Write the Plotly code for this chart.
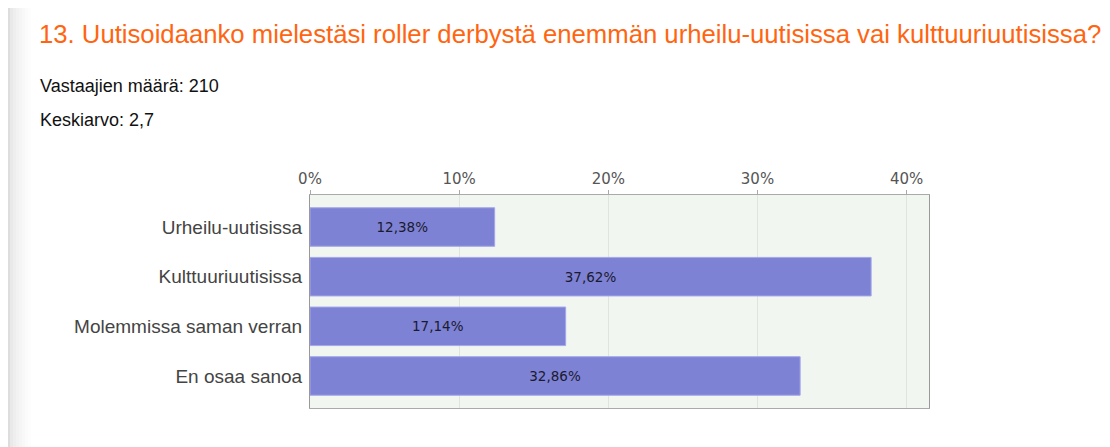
import plotly.graph_objects as go

categories = ["Urheilu-uutisissa", "Kulttuuriuutisissa", "Molemmissa saman verran", "En osaa sanoa"]
values = [12.38, 37.62, 17.14, 32.86]
tick_vals = [0, 10, 20, 30, 40]
tick_text = ["0%", "10%", "20%", "30%", "40%"]
title_text = "13. Uutisoidaanko mielestäsi roller derbystä enemmän urheilu-uutisissa vai kulttuuriuutisissa?"
info_lines = ["Vastaajien määrä: 210", "Keskiarvo: 2,7"]

OFF = 8  # page body margin
W, H = 1110 - OFF, 447 - OFF
L, R, T, B = 310 - OFF, 929 - OFF, 195 - OFF, 408 - OFF

def px(x):
    return (x - OFF - L) / (R - L)

def py(y):
    return (B - (y - OFF)) / (B - T)

labels = [f"{v:.2f}".replace(".", ",") + "%" for v in values]

fig = go.Figure()
fig.add_trace(go.Bar(
    x=values, y=categories, orientation="h",
    marker=dict(color="#7e82d4", line=dict(color="#a3a6ea", width=1)),
    width=0.776,
    text=labels, textposition="inside", insidetextanchor="middle",
    textfont=dict(family="DejaVu Sans", size=13.5, color="#1a1a30"),
    hoverinfo="skip",
))

shapes = []
shapes.append(dict(type="rect", xref="paper", yref="paper", x0=px(8), x1=px(10),
                   y0=py(H + 20), y1=py(-20), fillcolor="#dddddd", line=dict(width=0), layer="below"))
grad = ["#e9e9e9", "#eeeeee", "#f2f2f2", "#f5f5f5", "#f8f8f8", "#fbfbfb", "#fdfdfd"]
for i, c in enumerate(grad):
    shapes.append(dict(type="rect", xref="paper", yref="paper", x0=px(10 + i * 3), x1=px(13 + i * 3),
                       y0=py(H + 20), y1=py(-20), fillcolor=c, line=dict(width=0), layer="below"))

annotations = [
    dict(text=title_text, xref="paper", yref="paper", x=px(37), y=py(34), xanchor="left", yanchor="middle",
         showarrow=False, font=dict(family="Liberation Sans, Arial", size=25.7, color="#ff6510")),
    dict(text=info_lines[0], xref="paper", yref="paper", x=px(38), y=py(86), xanchor="left", yanchor="middle",
         showarrow=False, font=dict(family="Liberation Sans, Arial", size=18, color="#111")),
    dict(text=info_lines[1], xref="paper", yref="paper", x=px(38), y=py(120), xanchor="left", yanchor="middle",
         showarrow=False, font=dict(family="Liberation Sans, Arial", size=18, color="#111")),
]

fig.update_layout(
    width=W, height=H,
    margin=dict(l=L, r=W - R, t=T, b=H - B),
    paper_bgcolor="white", plot_bgcolor="#f2f6f0",
    showlegend=False,
    shapes=shapes, annotations=annotations,
    xaxis=dict(range=[0, 41.5], side="top", tickvals=tick_vals, ticktext=tick_text,
               showgrid=True, gridcolor="#e0e4de", gridwidth=1,
               showline=True, linecolor="#aaaaaa", linewidth=1, mirror=True,
               ticks="outside", ticklen=4, tickcolor="#aaaaaa",
               tickfont=dict(family="DejaVu Sans", size=15, color="#555"),
               zeroline=False, fixedrange=True),
    yaxis=dict(categoryorder="array", categoryarray=categories, range=[3.645, -0.645],
               showline=True, linecolor="#999999", linewidth=1, mirror=True,
               ticks="", ticklabelstandoff=3,
               tickfont=dict(family="Liberation Sans, Arial", size=19, color="#444"),
               fixedrange=True),
)

fig.write_html("out.html")
